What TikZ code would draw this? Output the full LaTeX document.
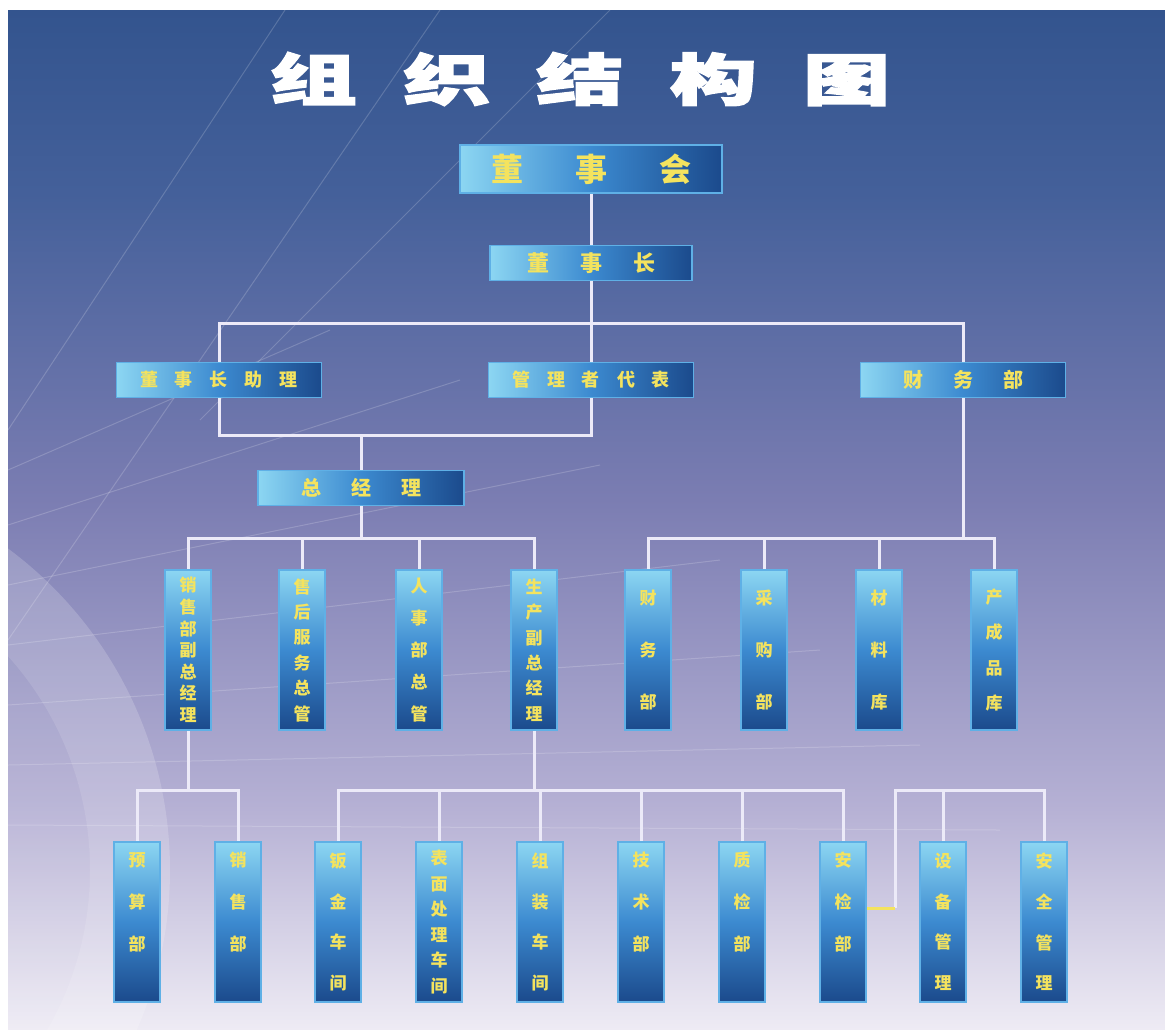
\documentclass[tikz,border=0pt]{standalone}
\usepackage{fontspec}
\newfontfamily\cjk{Noto Sans CJK SC}
\newfontfamily\cjktitle{Noto Sans CJK SC}[FakeBold=2.5]
\usetikzlibrary{calc}

\definecolor{bgtop}{HTML}{33548E}
\definecolor{bgupper}{HTML}{44609A}
\definecolor{bgmid}{HTML}{7B7DB2}
\definecolor{bglow}{HTML}{B5B0D4}
\definecolor{bgbot}{HTML}{EEEBF4}
\definecolor{boxlight}{HTML}{8CD6F2}
\definecolor{boxmid}{HTML}{3C8AD0}
\definecolor{boxdark}{HTML}{1B4A8C}
\definecolor{boxedge}{HTML}{5FB0E6}
\definecolor{gold}{HTML}{F4E35E}
\definecolor{wirecol}{HTML}{ECEAF8}

\pgfdeclareverticalshading{panel}{100bp}{color(0bp)=(bgbot); color(25bp)=(bgbot);
  color(36bp)=(bglow); color(51bp)=(bgmid); color(66bp)=(bgupper);
  color(75bp)=(bgtop); color(100bp)=(bgtop)}

\tikzset{
  rankbox/.style={draw=boxedge, line width=0.8pt, left color=boxlight,
    right color=boxdark, middle color=boxmid, minimum width=#1,
    minimum height=17.5pt, inner sep=0pt, text=gold,
    font=\cjk\bfseries\fontsize{9}{9}\selectfont},
  rankbox/.default=102.5pt,
  postbox/.style={draw=boxedge, line width=0.8pt, top color=boxlight,
    bottom color=boxdark, middle color=boxmid, minimum width=23pt,
    minimum height=80pt, inner sep=0pt, text=gold, align=center,
    font=\cjk\bfseries\fontsize{8.5}{#1}\selectfont},
  link/.style={draw=wirecol, line width=1.5pt},
  hotlink/.style={draw=gold, line width=1.5pt},
  titletext/.style={xscale=1.55, transform shape, inner sep=0pt,
    font=\cjktitle\bfseries\fontsize{28}{28}\selectfont}
}

\begin{document}
\begin{tikzpicture}[x=0.5pt,y=-0.5pt]
\useasboundingbox (0,0) rectangle (1165,1029);
\shade[shading=panel] (8,10) rectangle (1165,1029);

% background swirls
\begin{scope}
  \clip (8,10) rectangle (1165,1029);
  \fill[white, opacity=0.18, even odd rule]
    (-230,870) circle[radius=400] (-230,870) circle[radius=320];
  \fill[white, opacity=0.08] (-230,870) circle[radius=320];
  \begin{scope}[white, opacity=0.18, line width=0.5pt]
    \draw (285,10) -- (8,430);
    \draw (440,10) -- (8,640);
    \draw (610,10) -- (200,420);
    \draw (8,470) -- (330,330);
    \draw (8,525) -- (460,380);
    \draw (8,585) -- (600,465);
    \draw (8,645) -- (720,560);
    \draw (8,705) -- (820,650);
    \draw (8,765) -- (920,745);
    \draw (8,825) -- (1000,830);
  \end{scope}
\end{scope}

% title
\coordinate (TitlePos) at (580,79);
\node[titletext, text=white] (Title) at (TitlePos)
  {组\hspace{15pt}织\hspace{15pt}结\hspace{15pt}构\hspace{15pt}图};

% upper ranks
\node[rankbox=131pt, minimum height=24pt,
  font=\cjk\bfseries\fontsize{16}{16}\selectfont] (Board) at (591,169)
  {董\hspace{26pt}事\hspace{26pt}会};
\node[rankbox=101pt, font=\cjk\bfseries\fontsize{11}{11}\selectfont]
  (Chairman) at (591,263) {董\hspace{15.5pt}事\hspace{15.5pt}长};
\node[rankbox] (Assistant) at (219,380)
  {董\hspace{8.5pt}事\hspace{8.5pt}长\hspace{8.5pt}助\hspace{8.5pt}理};
\node[rankbox] (MgmtRep) at (591,380)
  {管\hspace{8.5pt}理\hspace{8.5pt}者\hspace{8.5pt}代\hspace{8.5pt}表};
\node[rankbox, font=\cjk\bfseries\fontsize{10}{10}\selectfont]
  (Finance) at (963,380) {财\hspace{15pt}务\hspace{15pt}部};
\node[rankbox=103pt, font=\cjk\bfseries\fontsize{10}{10}\selectfont]
  (GM) at (361,488) {总\hspace{15pt}经\hspace{15pt}理};

% middle ranks
\node[postbox=10.8pt] (SalesVP) at (188,650) {销\\售\\部\\副\\总\\经\\理};
\node[postbox=12.7pt] (ServiceHead) at (302,650) {售\\后\\服\\务\\总\\管};
\node[postbox=15.9pt] (HRHead) at (419,650) {人\\事\\部\\总\\管};
\node[postbox=12.7pt] (ProdVP) at (534,650) {生\\产\\副\\总\\经\\理};
\node[postbox=26pt] (FinanceDept) at (648,650) {财\\务\\部};
\node[postbox=26pt] (Purchase) at (764,650) {采\\购\\部};
\node[postbox=26pt] (Material) at (879,650) {材\\料\\库};
\node[postbox=17.7pt] (ProductStore) at (994,650) {产\\成\\品\\库};

% bottom ranks
\node[postbox=21pt] (Budget) at (137,922) {预\\算\\部\\~};
\node[postbox=21pt] (Sales) at (238,922) {销\\售\\部\\~};
\node[postbox=20.3pt] (SheetMetal) at (338,922) {钣\\金\\车\\间};
\node[postbox=12.8pt] (Surface) at (439,922) {表\\面\\处\\理\\车\\间};
\node[postbox=20.3pt] (Assembly) at (540,922) {组\\装\\车\\间};
\node[postbox=21pt] (Tech) at (641,922) {技\\术\\部\\~};
\node[postbox=21pt] (QC) at (742,922) {质\\检\\部\\~};
\node[postbox=21pt] (SafetyCheck) at (843,922) {安\\检\\部\\~};
\node[postbox=20.3pt] (Equipment) at (943,922) {设\\备\\管\\理};
\node[postbox=20.3pt] (Safety) at (1044,922) {安\\全\\管\\理};

% connectors
\coordinate (BusTop) at (591,323);
\coordinate (BusGM) at (361,435);
\coordinate (BusLeft) at (361,538);
\coordinate (BusRight) at (963,538);
\coordinate (BusSales) at (188,790);
\coordinate (BusProd) at (534,790);
\coordinate (BusSafe) at (895,790);
\coordinate (Jog) at (895,908);

\draw[link] (Board.south) -- (Chairman.north);
\draw[link] (Chairman.south) -- (MgmtRep.north);
\draw[link] (Assistant.north) |- (BusTop) -| (Finance.north);
\draw[link] (Assistant.south) |- (BusGM) -| (MgmtRep.south);
\draw[link] (BusGM) -- (GM.north);

\draw[link] (GM.south) -- (BusLeft);
\draw[link] (SalesVP.north) |- (BusLeft) -| (ProdVP.north);
\foreach \n in {ServiceHead,HRHead}
  \draw[link] (\n.north) -- (\n.north |- BusLeft);

\draw[link] (Finance.south) -- (BusRight);
\draw[link] (FinanceDept.north) |- (BusRight) -| (ProductStore.north);
\foreach \n in {Purchase,Material}
  \draw[link] (\n.north) -- (\n.north |- BusRight);

\draw[link] (SalesVP.south) -- (BusSales);
\draw[link] (Budget.north) |- (BusSales) -| (Sales.north);

\draw[link] (ProdVP.south) -- (BusProd);
\draw[link] (SheetMetal.north) |- (BusProd) -| (SafetyCheck.north);
\foreach \n in {Surface,Assembly,Tech,QC}
  \draw[link] (\n.north) -- (\n.north |- BusProd);

\draw[link] (Jog) -- (BusSafe) -| (Safety.north);
\draw[link] (Equipment.north) -- (Equipment.north |- BusSafe);
\draw[hotlink] (Jog) -- (Jog -| SafetyCheck.east);
\end{tikzpicture}
\end{document}
